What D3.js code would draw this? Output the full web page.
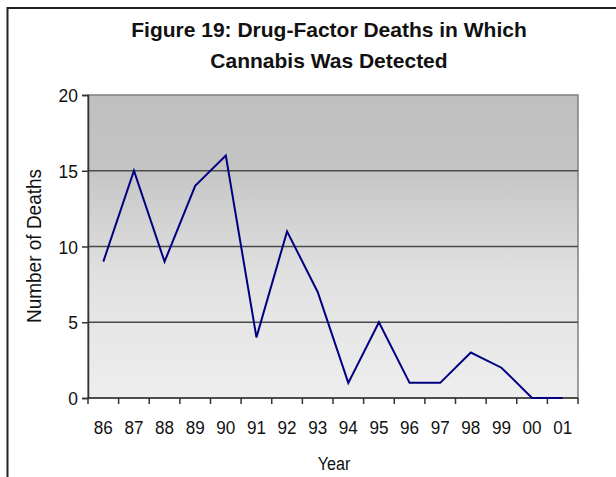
<!DOCTYPE html>
<html>
<head>
<meta charset="utf-8">
<script src="https://cdn.jsdelivr.net/npm/d3@7"></script>
<style>
  html, body { margin: 0; padding: 0; background: #ffffff; }
  svg { display: block; }
</style>
</head>
<body>
<svg id="chart" width="616" height="477"></svg>
<script>
// Drug-factor deaths with cannabis detected, by year
const years = ["86", "87", "88", "89", "90", "91", "92", "93", "94", "95", "96", "97", "98", "99", "00", "01"];
const deaths = [9, 15, 9, 14, 16, 4, 11, 7, 1, 5, 1, 1, 3, 2, 0, 0];
const yTicks = [0, 5, 10, 15, 20];
const titleLines = ["Figure 19: Drug-Factor Deaths in Which", "Cannabis Was Detected"];

const svg = d3.select("#chart");
const plot = { left: 88, top: 95, right: 578, bottom: 398 };
const FONT = "Liberation Sans, Arial, sans-serif";

const x = d3.scaleBand().domain(years).range([plot.left, plot.right]).padding(0);
const y = d3.scaleLinear().domain([0, 20]).range([plot.bottom, plot.top]);

// Slightly narrowed axis-style text placed at (px, py)
function axisText(sel, px, py, size, squeeze, rotate) {
  return sel
    .attr("transform", d => {
      const tx = typeof px === "function" ? px(d) : px;
      const ty = typeof py === "function" ? py(d) : py;
      return `translate(${tx},${ty})` + (rotate ? ` rotate(${rotate})` : "") + ` scale(${squeeze},1)`;
    })
    .attr("font-family", FONT)
    .attr("font-size", size)
    .attr("fill", "#111");
}

// Outer frame (top and left edges)
svg.append("path")
  .attr("d", "M7.5,477 L7.5,8 L616,8")
  .attr("fill", "none")
  .attr("stroke", "#222")
  .attr("stroke-width", 2);

// Plot background gradient
const defs = svg.append("defs");
const grad = defs.append("linearGradient")
  .attr("id", "bg").attr("x1", 0).attr("y1", 0).attr("x2", 0).attr("y2", 1);
grad.append("stop").attr("offset", "0%").attr("stop-color", "#bfbfbf");
grad.append("stop").attr("offset", "22%").attr("stop-color", "#c3c3c3");
grad.append("stop").attr("offset", "60%").attr("stop-color", "#e1e1e1");
grad.append("stop").attr("offset", "100%").attr("stop-color", "#eeeeee");

svg.append("rect")
  .attr("x", plot.left).attr("y", plot.top)
  .attr("width", plot.right - plot.left).attr("height", plot.bottom - plot.top)
  .attr("fill", "url(#bg)")
  .attr("stroke", "#808080")
  .attr("stroke-width", 1.5);

// Horizontal gridlines
svg.append("g")
  .selectAll("line")
  .data(yTicks.filter(d => d > 0 && d < 20))
  .join("line")
  .attr("x1", plot.left).attr("x2", plot.right)
  .attr("y1", d => y(d)).attr("y2", d => y(d))
  .attr("stroke", "#4a4a4a")
  .attr("stroke-width", 1.5);

// Y axis line and ticks
const yAxis = svg.append("g")
  .attr("transform", `translate(${plot.left},0)`)
  .call(d3.axisLeft(y).tickValues(yTicks).tickSize(6).tickFormat(""));
yAxis.select(".domain").attr("stroke", "#333").attr("stroke-width", 1.5);
yAxis.selectAll(".tick line").attr("stroke", "#333").attr("stroke-width", 1.5);

// Y tick labels
axisText(
  svg.append("g").selectAll("text").data(yTicks).join("text"),
  plot.left - 10, d => y(d) + 7, 19, 0.92
).attr("text-anchor", "end").text(d => d);

// X axis with ticks on category boundaries
const xAxis = svg.append("g")
  .attr("transform", `translate(0,${plot.bottom})`);
xAxis.append("line")
  .attr("x1", plot.left).attr("x2", plot.right)
  .attr("stroke", "#333").attr("stroke-width", 1.5);
const bounds = years.map(d => x(d)).concat([x(years[years.length - 1]) + x.bandwidth()]);
xAxis.selectAll("line.tk")
  .data(bounds)
  .join("line")
  .attr("class", "tk")
  .attr("x1", d => d).attr("x2", d => d)
  .attr("y1", 0).attr("y2", 6)
  .attr("stroke", "#333").attr("stroke-width", 1.5);

// X tick labels
axisText(
  svg.append("g").selectAll("text").data(years).join("text"),
  d => x(d) + x.bandwidth() / 2, plot.bottom + 36, 19, 0.9
).attr("text-anchor", "middle").text(d => d);

// Data line
const line = d3.line()
  .x((d, i) => x(years[i]) + x.bandwidth() / 2)
  .y(d => y(d));
svg.append("path")
  .datum(deaths)
  .attr("d", line)
  .attr("fill", "none")
  .attr("stroke", "#000080")
  .attr("stroke-width", 2)
  .attr("stroke-linejoin", "miter");

// Axis titles
axisText(svg.append("text"), 334, 470, 19, 0.85)
  .attr("text-anchor", "middle")
  .text("Year");

axisText(svg.append("text"), 41, 246, 20, 0.95, -90)
  .attr("text-anchor", "middle")
  .text("Number of Deaths");

// Chart title
svg.append("g")
  .selectAll("text")
  .data(titleLines)
  .join("text")
  .attr("x", 329)
  .attr("y", (d, i) => 37 + i * 30.5)
  .attr("text-anchor", "middle")
  .attr("font-family", FONT)
  .attr("font-weight", "bold")
  .attr("font-size", 21).attr("fill", "#111")
  .text(d => d);
</script>
</body>
</html>
